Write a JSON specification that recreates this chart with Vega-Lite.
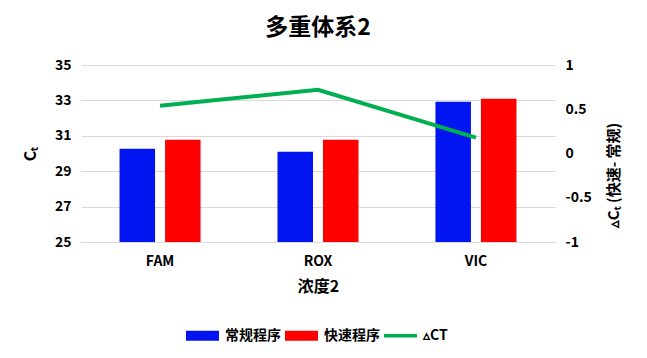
{
  "$schema": "https://vega.github.io/schema/vega-lite/v6.json",
  "width": 474,
  "height": 177,
  "autosize": {"type": "none"},
  "padding": {"left": 81, "top": 65, "right": 92, "bottom": 116},
  "background": "white",
  "config": {
    "font": "Noto Sans CJK SC",
    "view": {"stroke": null},
    "axis": {"labelFont": "Noto Sans CJK SC", "titleFont": "Noto Sans CJK SC"}
  },
  "title": {
    "text": "多重体系2",
    "fontSize": 23,
    "fontWeight": "bold",
    "color": "#000000",
    "offset": 18,
    "font": "Noto Sans CJK SC"
  },
  "datasets": {
    "bars": [
      {"dye": "FAM", "series": "常规程序", "ct": 30.27},
      {"dye": "FAM", "series": "快速程序", "ct": 30.78},
      {"dye": "ROX", "series": "常规程序", "ct": 30.1},
      {"dye": "ROX", "series": "快速程序", "ct": 30.78},
      {"dye": "VIC", "series": "常规程序", "ct": 32.93},
      {"dye": "VIC", "series": "快速程序", "ct": 33.1}
    ],
    "delta": [
      {"dye": "FAM", "series": "▵CT", "dct": 0.54},
      {"dye": "ROX", "series": "▵CT", "dct": 0.72},
      {"dye": "VIC", "series": "▵CT", "dct": 0.18}
    ]
  },
  "encoding": {
    "x": {
      "field": "dye",
      "type": "nominal",
      "sort": ["FAM", "ROX", "VIC"],
      "scale": {"paddingInner": 0.487, "paddingOuter": 0.244},
      "axis": {
        "title": "浓度2",
        "labelAngle": 0,
        "labelFontSize": 14,
        "labelFontWeight": "bold",
        "labelColor": "#000000",
        "labelPadding": 12,
        "titleFontSize": 16,
        "titleFontWeight": "bold",
        "titleColor": "#000000",
        "titlePadding": 10,
        "ticks": false,
        "domain": true,
        "domainColor": "#d9d9d9",
        "domainWidth": 1
      }
    }
  },
  "layer": [
    {
      "data": {"name": "bars"},
      "mark": {"type": "bar"},
      "encoding": {
        "xOffset": {
          "field": "series",
          "type": "nominal",
          "sort": ["常规程序", "快速程序"],
          "scale": {"paddingInner": 0.22, "paddingOuter": 0}
        },
        "y": {
          "field": "ct",
          "type": "quantitative",
          "scale": {"domain": [25, 35], "zero": false, "nice": false},
          "axis": {
            "title": "Cₜ",
            "values": [25, 27, 29, 31, 33, 35],
            "labelFontSize": 14,
            "labelFontWeight": "bold",
            "labelColor": "#000000",
            "labelPadding": 10,
            "titleFontSize": 16,
            "titleFontWeight": "bold",
            "titleColor": "#000000",
            "titlePadding": 16,
            "ticks": false,
            "domain": false,
            "grid": true,
            "gridColor": "#d9d9d9",
            "gridWidth": 1
          }
        },
        "y2": {"datum": 25},
        "color": {
          "field": "series",
          "type": "nominal",
          "scale": {
            "domain": ["常规程序", "快速程序", "▵CT"],
            "range": ["#0015f0", "#ff0000", "#00b050"]
          },
          "legend": {
            "title": null,
            "orient": "none",
            "legendX": 105,
            "legendY": 254,
            "direction": "horizontal",
            "symbolType": "M-1,-0.3H1V0.3H-1Z",
            "symbolSize": 1089,
            "symbolStrokeWidth": 0,
            "labelFontSize": 14,
            "labelFontWeight": "bold",
            "labelColor": "#000000",
            "labelOffset": 6,
            "columnPadding": 4,
            "symbolOpacity": 1,
            "labelFont": "Noto Sans CJK SC",
            "encode": {
              "symbols": {
                "update": {
                  "shape": {"signal": "datum.value === '▵CT' ? 'M-1,-0.1H1V0.1H-1Z' : 'M-1,-0.3H1V0.3H-1Z'"},
                  "fill": {"signal": "datum.value === '▵CT' ? '#00b050' : (datum.value === '常规程序' ? '#0015f0' : '#ff0000')"},
                  "strokeWidth": {"value": 0},
                  "opacity": {"value": 1}
                }
              }
            }
          }
        }
      }
    },
    {
      "data": {"name": "delta"},
      "mark": {"type": "line", "strokeWidth": 4, "color": "#00b050"},
      "encoding": {
        "y": {
          "field": "dct",
          "type": "quantitative",
          "scale": {"domain": [-1, 1], "nice": false, "zero": false},
          "axis": {
            "orient": "right",
            "title": "▵Cₜ (快速- 常规)",
            "values": [-1, -0.5, 0, 0.5, 1],
            "labelExpr": "datum.value + ''",
            "labelFontSize": 14,
            "labelFontWeight": "bold",
            "labelColor": "#000000",
            "labelPadding": 10,
            "titleFontSize": 15,
            "titleFontWeight": "bold",
            "titleColor": "#000000",
            "titleAngle": 270,
            "titleY": 110,
            "titlePadding": 30,
            "titleLimit": 300,
            "ticks": false,
            "domain": false,
            "grid": false
          }
        },
        "color": {"field": "series", "type": "nominal"}
      }
    }
  ],
  "resolve": {"scale": {"y": "independent"}}
}
